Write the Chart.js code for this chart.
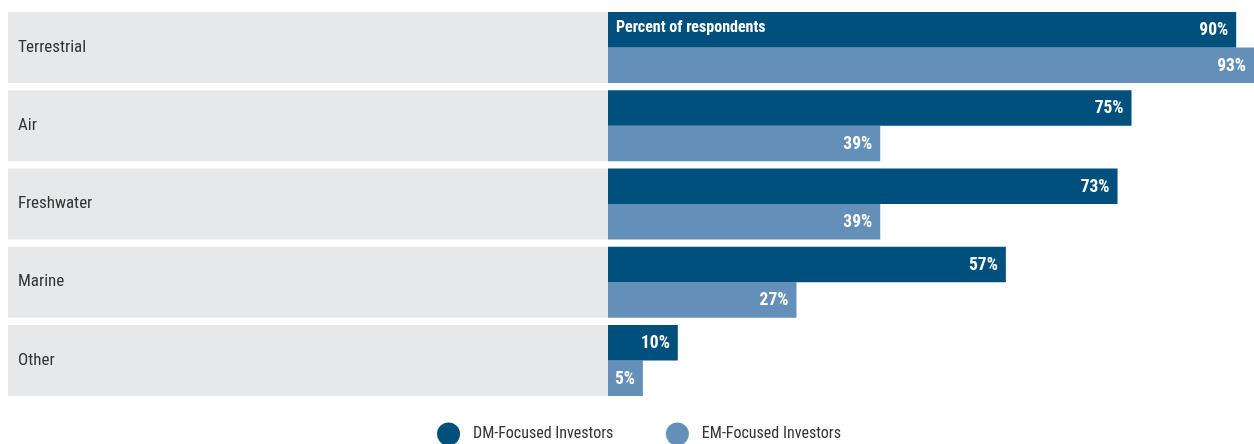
<!DOCTYPE html>
<html>
<head>
<meta charset="utf-8">
<script src="https://cdn.jsdelivr.net/npm/chart.js@4.4.0/dist/chart.umd.min.js"></script>
<style>
  html, body { margin: 0; padding: 0; background: #fff; overflow: hidden; }
  #wrap { width: 1254px; height: 470px; position: relative; }
</style>
</head>
<body>
<div id="wrap"><canvas id="habitatChart"></canvas></div>
<script>
const categories = ['Terrestrial', 'Air', 'Freshwater', 'Marine', 'Other'];
const dmValues = [90, 75, 73, 57, 10];
const emValues = [93, 39, 39, 27, 5];
const seriesNames = ['DM-Focused Investors', 'EM-Focused Investors'];
const axisNote = 'Percent of respondents';

const DM_COLOR = '#00507d';
const EM_COLOR = '#648fb9';
const BAND_COLOR = '#e7e8e9';
const TEXT_COLOR = '#333333';
const CAT_PCT = 0.907;
const PX_PER_PCT = 6.98;      // bar length per percent point
const PLOT_LEFT = 608;        // where bars start
const PLOT_TOP = 8.4;
const PLOT_BOTTOM = 399.6;
const LEGEND_DOT_Y = 434;

// the original uses a narrow face; take the first condensed one installed
const FONT_CANDIDATES = ['Noto Sans ExtraCondensed', 'Roboto Condensed', 'Noto Sans Condensed',
    'Liberation Sans Narrow', 'DejaVu Sans Condensed'];

function pickFamily() {
    const g = document.createElement('canvas').getContext('2d');
    const probe = 'Terrestrial Investors 90%';
    g.font = '40px monospace';
    const base = g.measureText(probe).width;
    for (const f of FONT_CANDIDATES) {
        g.font = "40px '" + f + "', monospace";
        if (Math.abs(g.measureText(probe).width - base) > 1) return "'" + f + "', sans-serif";
    }
    return 'sans-serif';
}
const FAMILY = pickFamily();

const measureCtx = document.createElement('canvas').getContext('2d');
function textWidth(text, weight, size) {
    measureCtx.font = weight + ' ' + size + 'px ' + FAMILY;
    return measureCtx.measureText(text).width;
}
// size that gives the original's text width, nudged up since our face is wider
function fitSize(text, weight, target, boost, maxSize) {
    const s = target / textWidth(text, weight, 100) * 100 * boost;
    return Math.min(maxSize, Math.round(s * 2) / 2);
}

const labelSize = fitSize('Terrestrial', 'normal', 60, 1.15, 21);
const legendSize = fitSize('DM-Focused Investors', 'normal', 137, 1.03, 21);
const valueSize = fitSize('90%', 'bold', 27, 1.06, 19);
const noteSize = fitSize(axisNote, 'bold', 143, 1.05, 18);

// legend geometry worked out from the original's dot and text positions
const half = legendSize / 2;
const legendPad = LEGEND_DOT_Y - PLOT_BOTTOM - half;
const boxW = 54.1;
const dotShift = 2.55 + half;
const dotOffset = boxW / 2 + dotShift;
const lineW = 2 * (boxW + half + legendPad) +
    seriesNames.reduce((s, n) => s + textWidth(n, 'normal', legendSize), 0);
const padLeft = 18;
const padRight = Math.max(4, padLeft + legendPad + 1254 - lineW - 2 * (448.5 - dotOffset));
const legendH = legendSize + legendPad + 10;
const canvasH = Math.ceil(PLOT_BOTTOM + legendH + 4);
const padBottom = canvasH - PLOT_BOTTOM - legendH;
const xMax = (1254 - padRight - PLOT_LEFT) / PX_PER_PCT;
document.getElementById('wrap').style.height = canvasH + 'px';

function makeDot(color) {
    const w = 2 * Math.ceil(Math.abs(dotShift) + 13);
    const c = document.createElement('canvas');
    c.width = w;
    c.height = 24;
    const g = c.getContext('2d');
    g.fillStyle = color;
    g.beginPath();
    g.arc(w / 2 + dotShift, 12, 11.5, 0, Math.PI * 2);
    g.fill();
    return c;
}
const dots = [makeDot(DM_COLOR), makeDot(EM_COLOR)];

// grey band behind each category, from the left margin to the bars
const bandPlugin = {
    id: 'bands',
    beforeDraw(chart) {
        const {ctx, chartArea, scales: {y}} = chart;
        const step = y.getPixelForValue(1) - y.getPixelForValue(0);
        const h = step * CAT_PCT;
        ctx.save();
        ctx.fillStyle = BAND_COLOR;
        categories.forEach((c, i) => {
            const cy = y.getPixelForValue(i);
            ctx.fillRect(8, cy - h / 2, chartArea.left - 8, h);
        });
        ctx.restore();
    }
};

// percent labels inside bar ends, plus the note in the first bar
const valuePlugin = {
    id: 'values',
    afterDatasetsDraw(chart) {
        const {ctx, chartArea} = chart;
        ctx.save();
        ctx.fillStyle = '#fff';
        ctx.textBaseline = 'middle';
        ctx.textAlign = 'right';
        ctx.font = 'bold ' + valueSize + 'px ' + FAMILY;
        chart.data.datasets.forEach((ds, di) => {
            chart.getDatasetMeta(di).data.forEach((bar, i) => {
                const end = Math.min(bar.x, chart.width);
                ctx.fillText(ds.data[i] + '%', end - 8, bar.y + 1);
            });
        });
        const first = chart.getDatasetMeta(0).data[0];
        ctx.textAlign = 'left';
        ctx.font = 'bold ' + noteSize + 'px ' + FAMILY;
        ctx.fillText(axisNote, chartArea.left + 8, first.y - 1.5);
        ctx.restore();
    }
};

new Chart(document.getElementById('habitatChart'), {
    type: 'bar',
    data: {
        labels: categories,
        datasets: [
            { label: seriesNames[0], data: dmValues, backgroundColor: DM_COLOR, clip: false },
            { label: seriesNames[1], data: emValues, backgroundColor: EM_COLOR, clip: false }
        ]
    },
    options: {
        indexAxis: 'y',
        responsive: true,
        maintainAspectRatio: false,
        animation: false,
        datasets: { bar: { categoryPercentage: CAT_PCT, barPercentage: 1 } },
        layout: { padding: { left: padLeft, right: padRight, top: PLOT_TOP, bottom: padBottom } },
        scales: {
            x: { display: false, min: 0, max: xMax },
            y: {
                grid: { display: false },
                border: { display: false },
                ticks: {
                    crossAlign: 'far',
                    color: TEXT_COLOR,
                    font: { family: FAMILY, size: labelSize }
                },
                afterFit(scale) {
                    scale.width = PLOT_LEFT - padLeft;
                    scale.paddingTop = 0;
                    scale.paddingBottom = 0;
                }
            }
        },
        plugins: {
            tooltip: { enabled: false },
            legend: {
                position: 'bottom',
                labels: {
                    usePointStyle: true,
                    pointStyleWidth: boxW,
                    boxHeight: Math.min(16, legendSize),
                    padding: legendPad,
                    color: TEXT_COLOR,
                    font: { family: FAMILY, size: legendSize },
                    generateLabels(chart) {
                        return Chart.defaults.plugins.legend.labels.generateLabels(chart)
                            .map((item, i) => Object.assign(item, { pointStyle: dots[i] }));
                    }
                }
            }
        }
    },
    plugins: [bandPlugin, valuePlugin]
});
</script>
</body>
</html>
